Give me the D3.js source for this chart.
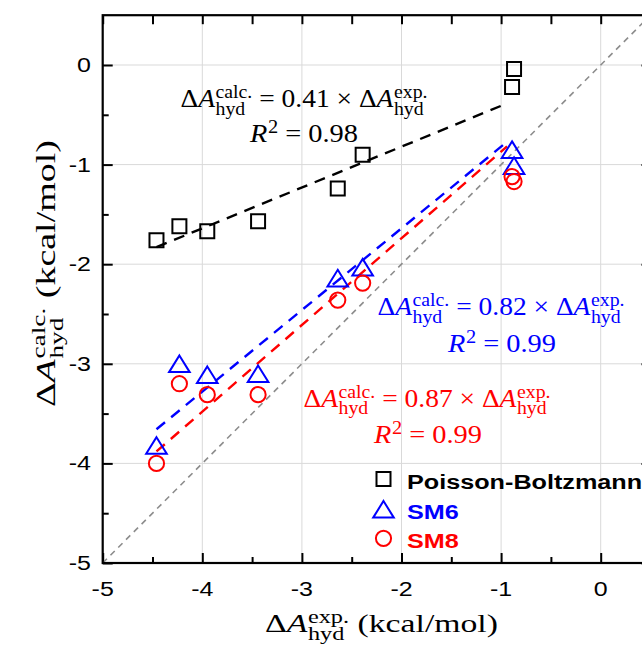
<!DOCTYPE html>
<html><head><meta charset="utf-8">
<script src="https://cdn.jsdelivr.net/npm/d3@7"></script>
<style>body{margin:0;background:#fff}svg text{white-space:pre}</style>
</head><body>
<svg id="c" width="642" height="656"></svg>
<script>
// ---- data ----
const xExp    = [-4.46, -4.23, -3.95, -3.44, -2.64, -2.39, -0.89, -0.87];
const pbCalc  = [-1.76, -1.62, -1.67, -1.57, -1.24, -0.90, -0.22, -0.04];
const sm6Calc = [-3.82, -3.00, -3.11, -3.10, -2.14, -2.03, -0.85, -1.01];
const sm8Calc = [-4.00, -3.20, -3.31, -3.31, -2.36, -2.19, -1.12, -1.17];
const seriesNames = ["Poisson-Boltzmann", "SM6", "SM8"];
const slopes = ["0.41", "0.82", "0.87"];
const r2 = ["0.98", "0.99", "0.99"];
const fitRange = [-4.46, -0.94];
const xTicks = [-5, -4, -3, -2, -1, 0];
const yTicks = [-5, -4, -3, -2, -1, 0];
const gridVals = [-4, -3, -2, -1, 0];
const minorVals = [-4.5, -3.5, -2.5, -1.5, -0.5];
const domain = [-5, 0.5];

// ---- setup ----
const colors = ["#000000", "#0000ff", "#ff0000"];
const svg = d3.select("#c");
const x = d3.scaleLinear().domain(domain).range([102.7, 650.5]);
const y = d3.scaleLinear().domain(domain).range([563, 15.2]);
const X0 = x(-5), X1 = x(0.5), Y0 = y(-5), Y1 = y(0.5);

// grid
const grid = svg.append("g").attr("stroke", "#d9d9d9").attr("stroke-width", 1);
grid.selectAll(".gx").data(gridVals).join("line")
  .attr("x1", d => x(d)).attr("x2", d => x(d)).attr("y1", Y1).attr("y2", Y0);
grid.selectAll(".gy").data(gridVals).join("line")
  .attr("y1", d => y(d)).attr("y2", d => y(d)).attr("x1", X0).attr("x2", X1);

// axes ticks (inward)
function ax(gen, scale, vals, size, tx, ty) {
  const g = svg.append("g").attr("transform", `translate(${tx},${ty})`)
    .call(gen(scale).tickValues(vals).tickSize(size).tickSizeOuter(0).tickFormat(""));
  g.select(".domain").remove();
  g.selectAll(".tick line").attr("stroke", "#000").attr("stroke-width", 2);
}
ax(d3.axisBottom, x, xTicks.concat([0.5]), -10, 0, Y0);
ax(d3.axisBottom, x, minorVals, -6, 0, Y0);
ax(d3.axisTop, x, xTicks.concat(minorVals), -9, 0, Y1);
ax(d3.axisLeft, y, yTicks, -10, X0, 0);
ax(d3.axisLeft, y, minorVals, -6, X0, 0);
ax(d3.axisRight, y, yTicks, -9, X1, 0);
ax(d3.axisRight, y, minorVals, -6, X1, 0);

// identity line
svg.append("line").attr("x1", x(-5)).attr("y1", y(-5)).attr("x2", x(0.5)).attr("y2", y(0.5))
  .attr("stroke", "#8c8c8c").attr("stroke-width", 1.6).attr("stroke-dasharray", "6,5");

// fit lines
slopes.forEach((s, i) => {
  const k = +s;
  svg.append("line").attr("x1", x(fitRange[0])).attr("y1", y(k * fitRange[0]))
    .attr("x2", x(fitRange[1])).attr("y2", y(k * fitRange[1]))
    .attr("stroke", colors[i]).attr("stroke-width", 2.4).attr("stroke-dasharray", "11,8");
});

// frame
svg.append("rect").attr("x", X0).attr("y", Y1).attr("width", X1 - X0).attr("height", Y0 - Y1)
  .attr("fill", "none").attr("stroke", "#000").attr("stroke-width", 2.2);

// markers
const shapes = [
  "M-7,-7H7V7H-7Z",
  "M0,-8.3L10.3,8.3H-10.3Z",
  d3.symbol().type(d3.symbolCircle).size(Math.PI * 7.6 * 7.6)()
];
const series = [pbCalc, sm6Calc, sm8Calc];
series.forEach((vals, i) => {
  svg.append("g").selectAll("path").data(xExp.map((xv, j) => [xv, vals[j]])).join("path")
    .attr("d", shapes[i]).attr("transform", d => `translate(${x(d[0])},${y(d[1])})`)
    .attr("fill", "none").attr("stroke", colors[i]).attr("stroke-width", 2);
});

// tick labels
const SANS = "'Liberation Sans', Arial, sans-serif";
const SERIF = "'Liberation Serif', 'Times New Roman', serif";
xTicks.forEach(v => {
  svg.append("text").attr("transform", `translate(${x(v)},596) scale(1.25,1)`)
    .attr("text-anchor", "middle").attr("font-family", SANS).attr("font-size", 20).text(String(v));
});
yTicks.forEach(v => {
  svg.append("text").attr("transform", `translate(91,${y(v) + 7}) scale(1.25,1)`)
    .attr("text-anchor", "end").attr("font-family", SANS).attr("font-size", 20).text(String(v));
});

// math builder: one <text> with positioned tspans
function mathLine(parts, o) {
  const g = svg.append("g");
  const txt = g.append("text").attr("font-family", o.font).attr("fill", o.color).attr("font-size", o.size);
  let cx = 0;
  const fs = o.size;
  const add = (str, dy, size, it) => {
    const t = txt.append("tspan").attr("x", cx).attr("y", dy).text(str);
    if (size) t.attr("font-size", size);
    if (it) t.attr("font-style", "italic");
    return t.node().getComputedTextLength();
  };
  parts.forEach(p => {
    if (p.t !== undefined) {
      cx += add(p.t, 0, null, p.it) + (p.it ? fs * 0.02 : 0);
    } else {
      let w = 0;
      if (p.sup) w = Math.max(w, add(p.sup, -fs * 0.36, fs * 0.72));
      if (p.sub) w = Math.max(w, add(p.sub, fs * 0.3, fs * 0.72));
      cx += w;
    }
  });
  return { g, w: cx };
}
function placeH(m, cx, by, target) {
  const s = target / m.w;
  m.g.attr("transform", `translate(${cx - target / 2},${by}) scale(${s},1)`);
}

// equations
const eqPos = [
  { cx: 304, by: 107, cx2: 304, by2: 142 },
  { cx: 501, by: 315, cx2: 502, by2: 351.5 },
  { cx: 427, by: 406.5, cx2: 428, by2: 443 }
];
slopes.forEach((s, i) => {
  const o = { font: SERIF, color: colors[i], size: 25 };
  const m = mathLine([{ t: "Δ" }, { t: "A", it: true }, { sup: "calc.", sub: "hyd" },
    { t: "\u00A0=\u00A0" + s + "\u00A0×\u00A0Δ" }, { t: "A", it: true }, { sup: "exp.", sub: "hyd" }], o);
  placeH(m, eqPos[i].cx, eqPos[i].by, 247);
  const m2 = mathLine([{ t: "R", it: true }, { sup: "2" }, { t: "\u00A0=\u00A0" + r2[i] }], o);
  placeH(m2, eqPos[i].cx2, eqPos[i].by2, 108);
});

// axis titles
const xt = mathLine([{ t: "Δ" }, { t: "A", it: true }, { sup: "exp.", sub: "hyd" }, { t: "\u00A0(kcal/mol)" }],
  { font: SERIF, color: "#000", size: 25 });
placeH(xt, 381.5, 632, 233);
const yt = mathLine([{ t: "Δ" }, { t: "A", it: true }, { sup: "calc.", sub: "hyd" }, { t: "\u00A0(kcal/mol)" }],
  { font: SERIF, color: "#000", size: 27 });
yt.g.attr("transform", `translate(55,407) rotate(-90) scale(${267 / yt.w},1)`);

// legend
const legY = [479, 509.3, 538.3];
seriesNames.forEach((n, i) => {
  svg.append("path").attr("d", shapes[i]).attr("transform", `translate(383.5,${legY[i]})`)
    .attr("fill", "none").attr("stroke", colors[i]).attr("stroke-width", 2);
  svg.append("text").attr("transform", `translate(407,${legY[i] + 10}) scale(1.2,1)`)
    .attr("font-family", SANS).attr("font-weight", "bold").attr("font-size", 21)
    .attr("fill", colors[i]).text(n);
});
</script>
</body></html>
